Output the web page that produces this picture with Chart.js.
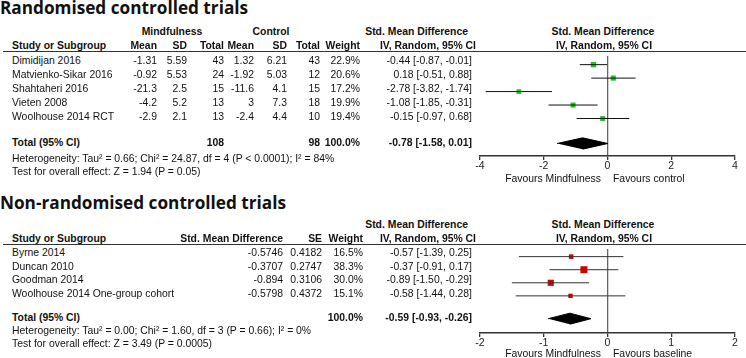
<!DOCTYPE html>
<html>
<head>
<meta charset="utf-8">
<script src="https://cdn.jsdelivr.net/npm/chart.js@4.4.0/dist/chart.umd.min.js"></script>
<style>
  html, body { margin: 0; padding: 0; background: #fff; }
  #page { position: relative; width: 746px; height: 358px; overflow: hidden;
          font-family: "Liberation Sans", Arial, sans-serif; font-size: 10.4px; color: #111; }
  .t { position: absolute; height: 14px; line-height: 14px; white-space: nowrap; }
  .b { font-weight: bold; }
  .title { position: absolute; font-family: "Open Sans", sans-serif; font-weight: bold;
           font-size: 17.2px; white-space: nowrap; line-height: 20px; }
  .rule { position: absolute; height: 0; border-top: 1.5px solid #333; }
  .box { position: absolute; }
</style>
</head>
<body>
<div id="page">
  <div class="title" style="left:0;top:-2px">Randomised controlled trials</div>
  <div class="title" style="left:0;top:193px">Non-randomised controlled trials</div>
  <div class="rule" style="left:3px;top:51px;width:743px"></div>
  <div class="rule" style="left:3px;top:244px;width:743px"></div>
  <div class="box" style="left:470px;top:52px;width:276px;height:122px"><canvas id="rct"></canvas></div>
  <div class="box" style="left:470px;top:245px;width:276px;height:104px"><canvas id="nrs"></canvas></div>
</div>
<script>
// Randomised controlled trials
const rctStudies = ['Dimidijan 2016', 'Matvienko-Sikar 2016', 'Shahtaheri 2016', 'Vieten 2008', 'Woolhouse 2014 RCT'];
const rctMindMean = [-1.31, -0.92, -21.3, -4.2, -2.9];
const rctMindSD = [5.59, 5.53, 2.5, 5.2, 2.1];
const rctMindN = [43, 24, 15, 13, 13];
const rctCtrlMean = [1.32, -1.92, -11.6, 3, -2.4];
const rctCtrlSD = [6.21, 5.03, 4.1, 7.3, 4.4];
const rctCtrlN = [43, 12, 15, 18, 10];
const rctWeight = [22.9, 20.6, 17.2, 19.9, 19.4];
const rctSMD = [-0.44, 0.18, -2.78, -1.08, -0.15];
const rctLo = [-0.87, -0.51, -3.82, -1.85, -0.97];
const rctHi = [-0.01, 0.88, -1.74, -0.31, 0.68];
const rctTotal = [-0.78, -1.58, 0.01];  // estimate, lower, upper
const rctTicks = [-4, -2, 0, 2, 4];

// Non-randomised controlled trials
const nrsStudies = ['Byrne 2014', 'Duncan 2010', 'Goodman 2014', 'Woolhouse 2014 One-group cohort'];
const nrsRawSMD = ['-0.5746', '-0.3707', '-0.894', '-0.5798'];
const nrsSE = ['0.4182', '0.2747', '0.3106', '0.4372'];
const nrsWeight = [16.5, 38.3, 30.0, 15.1];
const nrsSMD = [-0.57, -0.37, -0.89, -0.58];
const nrsLo = [-1.39, -0.91, -1.50, -1.44];
const nrsHi = [0.25, 0.17, -0.29, 0.28];
const nrsTotal = [-0.59, -0.93, -0.26];
const nrsTicks = [-2, -1, 0, 1, 2];

const page = document.getElementById('page');

function txt(x, y, s, align, bold) {
  const d = document.createElement('div');
  d.className = 't' + (bold ? ' b' : '');
  d.textContent = s;
  d.style.top = (y - 7) + 'px';
  if (align === 'r') d.style.right = (746 - x) + 'px';
  else if (align === 'c') { d.style.left = (x - 100) + 'px'; d.style.width = '200px'; d.style.textAlign = 'center'; }
  else d.style.left = x + 'px';
  page.appendChild(d);
}

const ci = (e, l, h) => `${e.toFixed(2)} [${l.toFixed(2)}, ${h.toFixed(2)}]`;

// --- RCT table ---
txt(172, 32, 'Mindfulness', 'c', true);
txt(271, 32, 'Control', 'c', true);
txt(468, 32, 'Std. Mean Difference', 'r', true);
txt(603, 32, 'Std. Mean Difference', 'c', true);
txt(12, 46, 'Study or Subgroup', 'l', true);
[['Mean', 157], ['SD', 187], ['Total', 224], ['Mean', 254], ['SD', 287], ['Total', 320], ['Weight', 360],
 ['IV, Random, 95% CI', 476]].forEach(([s, x]) => txt(x, 46, s, 'r', true));
txt(604, 46, 'IV, Random, 95% CI', 'c', true);

rctStudies.forEach((name, i) => {
  const y = 61 + 14 * i;
  txt(12, y, name);
  txt(157, y, String(rctMindMean[i]), 'r');
  txt(187, y, String(rctMindSD[i]), 'r');
  txt(224, y, String(rctMindN[i]), 'r');
  txt(254, y, String(rctCtrlMean[i]), 'r');
  txt(287, y, String(rctCtrlSD[i]), 'r');
  txt(320, y, String(rctCtrlN[i]), 'r');
  txt(360, y, rctWeight[i].toFixed(1) + '%', 'r');
  txt(472, y, ci(rctSMD[i], rctLo[i], rctHi[i]), 'r');
});
txt(12, 143, 'Total (95% CI)', 'l', true);
txt(224, 143, String(rctMindN.reduce((a, b) => a + b, 0)), 'r', true);
txt(320, 143, String(rctCtrlN.reduce((a, b) => a + b, 0)), 'r', true);
txt(360, 143, '100.0%', 'r', true);
txt(472, 143, ci(rctTotal[0], rctTotal[1], rctTotal[2]), 'r', true);
txt(12, 159, 'Heterogeneity: Tau\u00b2 = 0.66; Chi\u00b2 = 24.87, df = 4 (P < 0.0001); I\u00b2 = 84%');
txt(12, 172, 'Test for overall effect: Z = 1.94 (P = 0.05)');
txt(601, 179, 'Favours Mindfulness', 'r');
txt(613, 179, 'Favours control', 'l');

// --- NRS table ---
txt(468, 225, 'Std. Mean Difference', 'r', true);
txt(603, 225, 'Std. Mean Difference', 'c', true);
txt(12, 239, 'Study or Subgroup', 'l', true);
[['Std. Mean Difference', 283], ['SE', 322], ['Weight', 363], ['IV, Random, 95% CI', 476]]
  .forEach(([s, x]) => txt(x, 239, s, 'r', true));
txt(604, 239, 'IV, Random, 95% CI', 'c', true);

nrsStudies.forEach((name, i) => {
  const y = 253 + 13.7 * i;
  txt(12, y, name);
  txt(283, y, nrsRawSMD[i], 'r');
  txt(322, y, nrsSE[i], 'r');
  txt(363, y, nrsWeight[i].toFixed(1) + '%', 'r');
  txt(472, y, ci(nrsSMD[i], nrsLo[i], nrsHi[i]), 'r');
});
txt(12, 318, 'Total (95% CI)', 'l', true);
txt(363, 318, '100.0%', 'r', true);
txt(472, 318, ci(nrsTotal[0], nrsTotal[1], nrsTotal[2]), 'r', true);
txt(12, 331, 'Heterogeneity: Tau\u00b2 = 0.00; Chi\u00b2 = 1.60, df = 3 (P = 0.66); I\u00b2 = 0%');
txt(12, 344, 'Test for overall effect: Z = 3.49 (P = 0.0005)');
txt(601, 354, 'Favours Mindfulness', 'r');
txt(613, 354, 'Favours baseline', 'l');

// --- forest plots ---
function forest(id, est, lo, hi, weight, total, ticks, color, lineColor, yMin, yMax, totalRow, axisH) {
  const datasets = [];
  est.forEach((e, i) => {
    datasets.push({
      data: [{ x: lo[i], y: i }, { x: hi[i], y: i }],
      borderColor: lineColor, borderWidth: 1, pointRadius: 0
    });
  });
  // squares, area proportional to weight
  datasets.push({
    data: est.map((e, i) => ({ x: e, y: i })),
    showLine: false,
    pointStyle: 'rect',
    pointRadius: weight.map(w => Math.sqrt(w) * 1.13 * 0.7071),
    pointBackgroundColor: color,
    pointBorderWidth: 0
  });
  // pooled diamond
  const h = 0.42;
  datasets.push({
    data: [
      { x: total[1], y: totalRow }, { x: total[0], y: totalRow - h },
      { x: total[2], y: totalRow }, { x: total[0], y: totalRow + h }
    ],
    borderColor: '#000', borderWidth: 1, backgroundColor: '#000',
    fill: 'shape', pointRadius: 0, tension: 0
  });

  return new Chart(document.getElementById(id), {
    type: 'line',
    data: { datasets },
    options: {
      responsive: true,
      maintainAspectRatio: false,
      animation: false,
      layout: { padding: { left: 10, right: 11, top: 0, bottom: 0 } },
      plugins: { legend: { display: false }, tooltip: { enabled: false } },
      scales: {
        x: {
          type: 'linear',
          min: ticks[0], max: ticks[ticks.length - 1],
          afterBuildTicks: s => { s.ticks = ticks.map(v => ({ value: v })); },
          afterFit: s => { s.height = axisH; },
          border: { display: true, color: '#333', width: 1.5 },
          grid: {
            drawOnChartArea: true,
            color: c => (c.tick && c.tick.value === 0 ? '#666' : 'rgba(0,0,0,0)'),
            lineWidth: 1.3,
            tickColor: '#333',
            tickLength: 4
          },
          ticks: {
            padding: 0,
            color: '#222',
            font: { family: 'Liberation Sans', size: 10.5 },
            maxRotation: 0
          }
        },
        y: { type: 'linear', display: false, reverse: true, min: yMin, max: yMax }
      }
    }
  });
}

forest('rct', rctSMD, rctLo, rctHi, rctWeight, rctTotal, rctTicks, '#22c422', '#111',
  -9 / 14, 95 / 14, rctStudies.length + 0.857, 18);
forest('nrs', nrsSMD, nrsLo, nrsHi, nrsWeight, nrsTotal, nrsTicks, '#d80000', '#333',
  -8 / 13.7, 80 / 13.7, nrsStudies.length + 0.745, 16);
</script>
</body>
</html>
